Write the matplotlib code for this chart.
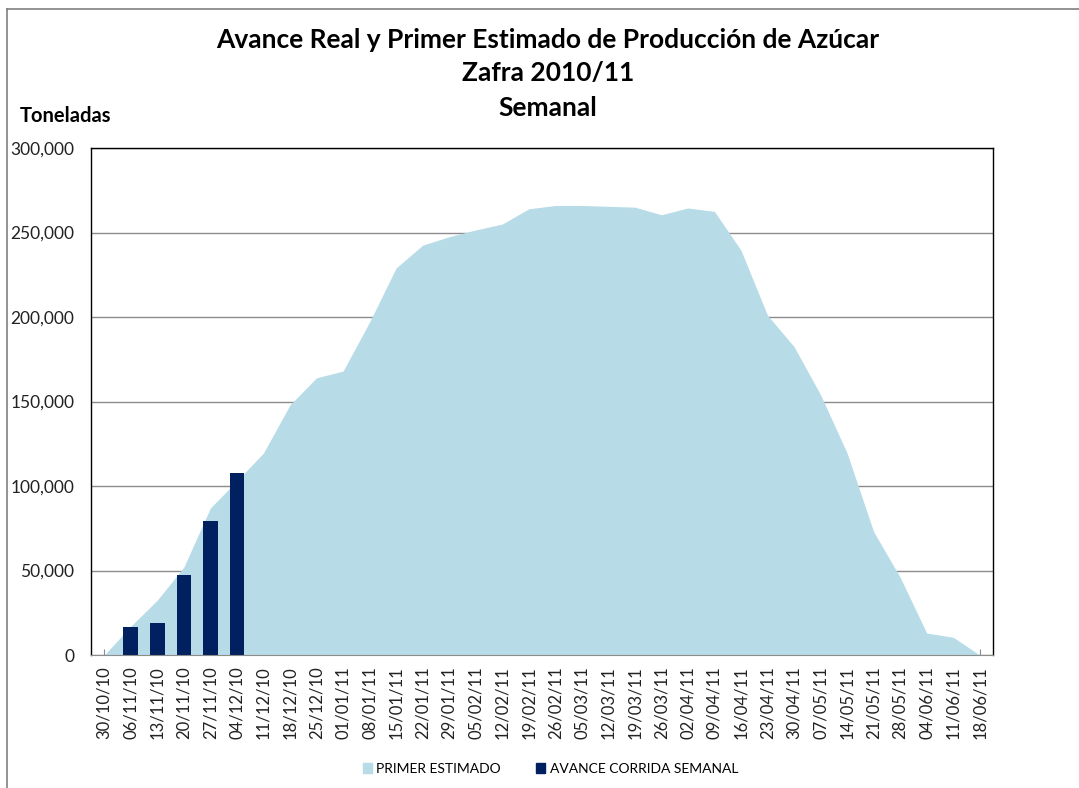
import matplotlib
matplotlib.use("Agg")
import matplotlib.pyplot as plt
from matplotlib.lines import Line2D
from matplotlib.patches import Patch
from matplotlib.ticker import FuncFormatter, MultipleLocator

plt.rcParams['font.family'] = ['Lato', 'DejaVu Sans']

# ---------------- DATA ----------------
semanas = ['30/10/10', '06/11/10', '13/11/10', '20/11/10', '27/11/10', '04/12/10',
           '11/12/10', '18/12/10', '25/12/10', '01/01/11', '08/01/11', '15/01/11',
           '22/01/11', '29/01/11', '05/02/11', '12/02/11', '19/02/11', '26/02/11',
           '05/03/11', '12/03/11', '19/03/11', '26/03/11', '02/04/11', '09/04/11',
           '16/04/11', '23/04/11', '30/04/11', '07/05/11', '14/05/11', '21/05/11',
           '28/05/11', '04/06/11', '11/06/11', '18/06/11']

primer_estimado = [0, 17000, 32500, 52000, 87000, 103000,
                   119500, 148000, 164000, 168000, 197000, 229000,
                   242500, 247500, 251500, 255000, 264000, 266000,
                   266000, 265500, 265000, 260500, 264500, 262500,
                   239500, 201000, 182500, 154000, 119500, 73000,
                   46000, 13000, 10500, 0]

avance_semanas = ['06/11/10', '13/11/10', '20/11/10', '27/11/10', '04/12/10']
avance_corrida = [16400, 19100, 47300, 79300, 107500]

color_est = '#b7dce7'
color_av = '#002060'

fig = plt.figure(figsize=(10.79, 7.88), dpi=100)
ax = fig.add_axes([91 / 1079, 1 - 655 / 788, (993 - 91) / 1079, (655 - 148) / 788])

x = list(range(len(semanas)))
ax.fill_between(x, primer_estimado, 0, color=color_est, linewidth=0, zorder=1)

bx = [semanas.index(s) for s in avance_semanas]
ax.bar(bx, avance_corrida, width=0.55, color=color_av, zorder=2)

ax.set_xlim(-0.5, len(semanas) - 0.5)
ax.set_ylim(0, 300000)
ax.yaxis.set_major_locator(MultipleLocator(50000))
ax.yaxis.set_major_formatter(FuncFormatter(lambda v, p: f"{int(v):,}"))
ax.grid(axis='y', color='#8c8c8c', linewidth=1.0, zorder=0)
ax.set_axisbelow(True)

ax.set_xticks(x)
ax.set_xticklabels(semanas, rotation=90, fontsize=12, color='#222222')
ax.set_xticks([i + 0.5 for i in x[:-1]], minor=True)
ax.tick_params(axis='x', which='both', direction='in', length=4, color='#8c8c8c', pad=8)
ax.tick_params(axis='y', length=0, labelsize=12.5, labelcolor='#222222', pad=12)

for side in ['top', 'right', 'left']:
    ax.spines[side].set_color('black')
    ax.spines[side].set_linewidth(1.0)
ax.spines['bottom'].set_color('#8c8c8c')

fig.text(0.508, 1 - 40 / 788, 'Avance Real y Primer Estimado de Producción de Azúcar',
         ha='center', va='center', fontsize=19, fontweight='bold')
fig.text(0.508, 1 - 73 / 788, 'Zafra 2010/11', ha='center', va='center',
         fontsize=19, fontweight='bold')
fig.text(0.508, 1 - 108 / 788, 'Semanal', ha='center', va='center',
         fontsize=19, fontweight='bold')
fig.text(20 / 1079, 1 - 116 / 788, 'Toneladas', ha='left', va='center',
         fontsize=14.5, fontweight='bold')

handles = [Patch(color=color_est, label='PRIMER ESTIMADO'),
           Patch(color=color_av, label='AVANCE CORRIDA SEMANAL')]
fig.legend(handles=handles, loc='center', bbox_to_anchor=(0.51, 1 - 769 / 788),
           ncol=2, frameon=False, fontsize=10, handlelength=0.7, handleheight=0.7,
           handletextpad=0.3, columnspacing=2.5)

# marco de la figura (solo izquierda y arriba)
fig.add_artist(Line2D([7 / 1079, 7 / 1079], [0, 1 - 9 / 788], color='#808080', linewidth=1.2))
fig.add_artist(Line2D([7 / 1079, 1], [1 - 9 / 788, 1 - 9 / 788], color='#808080', linewidth=1.2))

fig.savefig('out.png', dpi=100)
